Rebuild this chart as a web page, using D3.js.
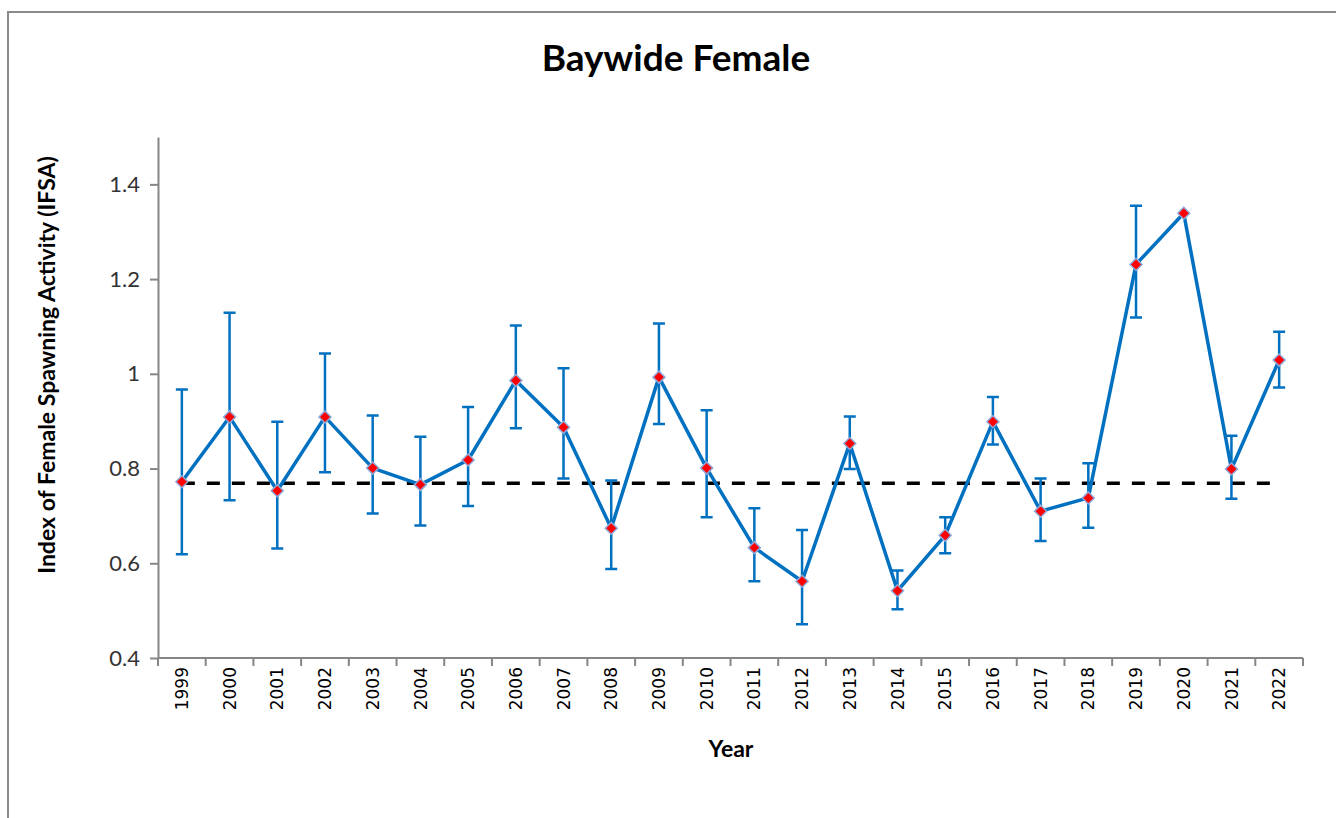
<!DOCTYPE html>
<meta charset="utf-8">
<style>
body { margin: 0; background: #fff; }
.axis path, .axis line { stroke: #868686; stroke-width: 2px; }
.ylab text { font: 22px Lato, sans-serif; fill: #333; }
</style>
<svg width="1336" height="818"></svg>
<script src="https://cdn.jsdelivr.net/npm/d3@7"></script>
<script>

var years = ["1999","2000","2001","2002","2003","2004","2005","2006","2007","2008","2009","2010",
             "2011","2012","2013","2014","2015","2016","2017","2018","2019","2020","2021","2022"];
var ifsa  = [0.772,0.909,0.753,0.909,0.801,0.766,0.818,0.986,0.887,0.674,0.993,0.801,
             0.633,0.562,0.853,0.542,0.659,0.899,0.710,0.738,1.231,1.339,0.799,1.029];
var upper = [0.967,1.129,0.899,1.043,0.912,0.867,0.930,1.102,1.012,0.775,1.106,0.923,
             0.716,0.670,0.910,0.585,0.697,0.951,0.779,0.811,1.355,null,0.869,1.089];
var lower = [0.619,0.733,0.631,0.792,0.705,0.680,0.721,0.885,0.779,0.588,0.894,0.697,
             0.562,0.471,0.799,0.503,0.621,0.851,0.647,0.675,1.119,null,0.736,0.971];
var meanLine = 0.769;
var yTicks = [0.4, 0.6, 0.8, 1.0, 1.2, 1.4];

var data = years.map(function(y, i) {
    return {year: y, v: ifsa[i], hi: upper[i], lo: lower[i]};
});

var svg = d3.select("svg");
var plotL = 158, plotR = 1303, plotT = 137, plotB = 658;

// chart frame (only top and left visible)
svg.append("path")
    .attr("d", "M8,818V12H1336")
    .attr("fill", "none")
    .attr("stroke", "#8a8a8a")
    .attr("stroke-width", 2);

var x = d3.scaleBand().domain(years).range([plotL, plotR]);
var y = d3.scaleLinear().domain([0.4, 1.5]).range([plotB, plotT]);
var cx = function(d) { return x(d.year) + x.bandwidth() / 2; };

// y axis
svg.append("g")
    .attr("class", "axis ylab")
    .attr("transform", "translate(" + plotL + ",0)")
    .call(d3.axisLeft(y).tickValues(yTicks).tickSize(8).tickSizeOuter(0).tickPadding(10)
        .tickFormat(function(d) { return String(+d.toFixed(1)); }));

// x axis line + boundary ticks
svg.append("line")
    .attr("x1", plotL).attr("x2", plotR).attr("y1", plotB).attr("y2", plotB)
    .style("stroke", "#868686").style("stroke-width", 2);
svg.append("g").attr("class", "axis")
  .selectAll("line")
  .data(years.map(function(d) { return x(d); }).concat([plotR]))
  .enter().append("line")
    .attr("x1", function(d) { return d; }).attr("x2", function(d) { return d; })
    .attr("y1", plotB).attr("y2", plotB + 8);

svg.append("g")
  .selectAll("text")
  .data(data)
  .enter().append("text")
    .attr("transform", function(d) { return "translate(" + cx(d) + "," + (plotB + 9) + ") rotate(-90)"; })
    .attr("text-anchor", "end")
    .attr("dy", "0.36em")
    .attr("font-family", "'DejaVu Sans', Verdana, sans-serif")
    .attr("font-size", 17)
    .attr("fill", "#000")
    .text(function(d) { return d.year; });

// titles
svg.append("text")
    .attr("x", 676).attr("y", 71)
    .attr("text-anchor", "middle")
    .style("font", "bold 37px Lato, sans-serif")
    .text("Baywide Female");

svg.append("text")
    .attr("x", 731).attr("y", 757)
    .attr("text-anchor", "middle")
    .style("font", "bold 23px Lato, sans-serif")
    .text("Year");

svg.append("text")
    .attr("transform", "translate(55,365) rotate(-90)")
    .attr("text-anchor", "middle")
    .style("font", "bold 23px Lato, sans-serif")
    .text("Index of Female Spawning Activity (IFSA)");

// mean dashed line
svg.append("line")
    .attr("x1", cx(data[0])).attr("x2", cx(data[data.length - 1]))
    .attr("y1", y(meanLine)).attr("y2", y(meanLine))
    .attr("stroke", "#000").attr("stroke-width", 3.5)
    .attr("stroke-dasharray", "13,12");

// error bars
svg.append("g")
    .attr("stroke", "#0070C0").attr("stroke-width", 2.5).attr("fill", "none")
  .selectAll("path")
  .data(data.filter(function(d) { return d.hi != null; }))
  .enter().append("path")
    .attr("d", function(d) {
        var c = cx(d), w = 6;
        return "M" + c + "," + y(d.lo) + "V" + y(d.hi) +
               "M" + (c - w) + "," + y(d.hi) + "H" + (c + w) +
               "M" + (c - w) + "," + y(d.lo) + "H" + (c + w);
    });

// series line
svg.append("path")
    .datum(data)
    .attr("fill", "none")
    .attr("stroke", "#0070C0")
    .attr("stroke-width", 3.5)
    .attr("stroke-linejoin", "round")
    .attr("d", d3.line().x(cx).y(function(d) { return y(d.v); }));

// diamond markers
svg.append("g")
  .selectAll("path")
  .data(data)
  .enter().append("path")
    .attr("transform", function(d) { return "translate(" + cx(d) + "," + y(d.v) + ")"; })
    .attr("d", "M0,-6L6,0L0,6L-6,0Z")
    .attr("fill", "#ff0000")
    .attr("stroke", "#8fa8d8")
    .attr("stroke-width", 1.5);

</script>
